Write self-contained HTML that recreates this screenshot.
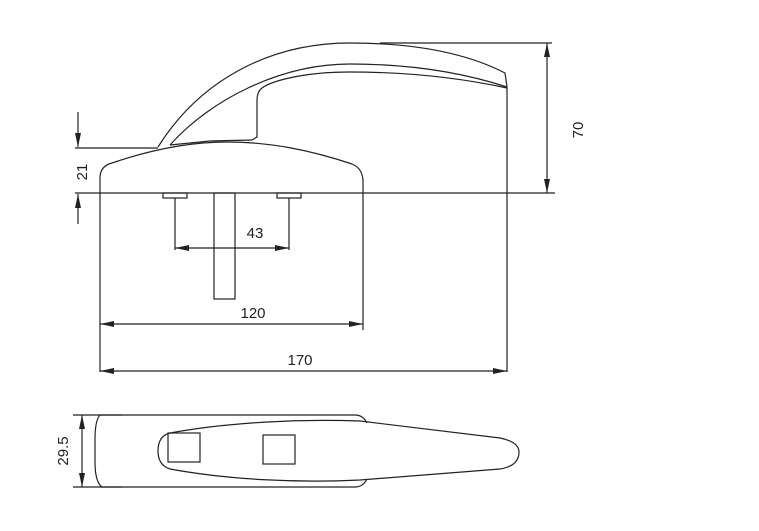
<!DOCTYPE html>
<html><head><style>html,body{margin:0;padding:0;background:#fff;}svg{display:block}</style></head>
<body>
<svg width="759" height="531" viewBox="0 0 759 531" xmlns="http://www.w3.org/2000/svg" font-family="Liberation Sans, sans-serif" font-size="15" fill="none" stroke="#222" stroke-width="1.2">
<defs>
<marker id="a" viewBox="0 0 14 6" refX="14" refY="3" markerWidth="14" markerHeight="6" orient="auto-start-reverse" markerUnits="userSpaceOnUse"><path d="M0,0 L14,3 L0,6 z" fill="#222" stroke="none"/></marker>
</defs>
<!-- handle -->
<path d="M158,147 C200,80 270,43 350,43 C420,43 470,55 505,73 L507,87"/>
<path d="M170,145 C210,100 280,64 350,64 C420,64 470,75 507,87"/>
<path d="M507,88 C470,80 420,72 350,72 C300,72 270,82 262,88 C258,91 257,95 257,100 L257,137 L252,140"/>
<path d="M170,145 L210,141 L252,140"/>
<!-- base -->
<path d="M100,193 L100,178 Q100,166 112,163 C150,150 190,142 227,142 C270,142 310,150 352,164 Q362,168 363,180 L363,330"/>
<!-- lines -->
<line x1="75" y1="193" x2="555" y2="193"/>
<line x1="75" y1="148" x2="158" y2="148"/>
<line x1="380" y1="43" x2="552" y2="43"/>
<line x1="507" y1="87" x2="507" y2="372"/>
<line x1="100" y1="193" x2="100" y2="372"/>
<!-- pads -->
<rect x="163" y="193" width="24" height="5"/>
<rect x="277" y="193" width="24" height="5"/>
<line x1="175" y1="198" x2="175" y2="250"/>
<line x1="289" y1="198" x2="289" y2="250"/>
<rect x="214" y="193" width="21" height="106"/>
<!-- dims -->
<line x1="175" y1="248" x2="289" y2="248" marker-start="url(#a)" marker-end="url(#a)"/>
<line x1="100" y1="324" x2="363" y2="324" marker-start="url(#a)" marker-end="url(#a)"/>
<line x1="100" y1="371" x2="507" y2="371" marker-start="url(#a)" marker-end="url(#a)"/>
<line x1="547" y1="43" x2="547" y2="193" marker-start="url(#a)" marker-end="url(#a)"/>
<line x1="78" y1="112" x2="78" y2="147" marker-end="url(#a)"/>
<line x1="78" y1="224" x2="78" y2="194" marker-end="url(#a)"/>
<g fill="#222" stroke="none">
<text x="255" y="238" text-anchor="middle">43</text>
<text x="253" y="318" text-anchor="middle">120</text>
<text x="300" y="365" text-anchor="middle">170</text>
<text transform="translate(583,130) rotate(-90)" text-anchor="middle">70</text>
<text transform="translate(87,172) rotate(-90)" text-anchor="middle">21</text>
<text transform="translate(68,451) rotate(-90)" text-anchor="middle">29.5</text>
</g>
<!-- bottom view -->
<line x1="73" y1="415" x2="122" y2="415"/>
<line x1="73" y1="487" x2="122" y2="487"/>
<line x1="82" y1="415" x2="82" y2="487" marker-start="url(#a)" marker-end="url(#a)"/>
<path d="M100,415 L355,415 Q363,415 367,423 M100,415 Q95,420 95,440 L95,462 Q95,482 102,487 L355,487 Q363,487 367,479"/>
<path d="M170,433 C230,422 300,419 360,421 L500,438 Q519,442 519,452 Q519,466 500,469 L360,480 C300,483 230,480 170,469 Q158,465 158,451 Q158,436 170,433 Z"/>
<rect x="168" y="433" width="32" height="29"/>
<rect x="263" y="435" width="32" height="29"/>
</svg>
</body></html>
